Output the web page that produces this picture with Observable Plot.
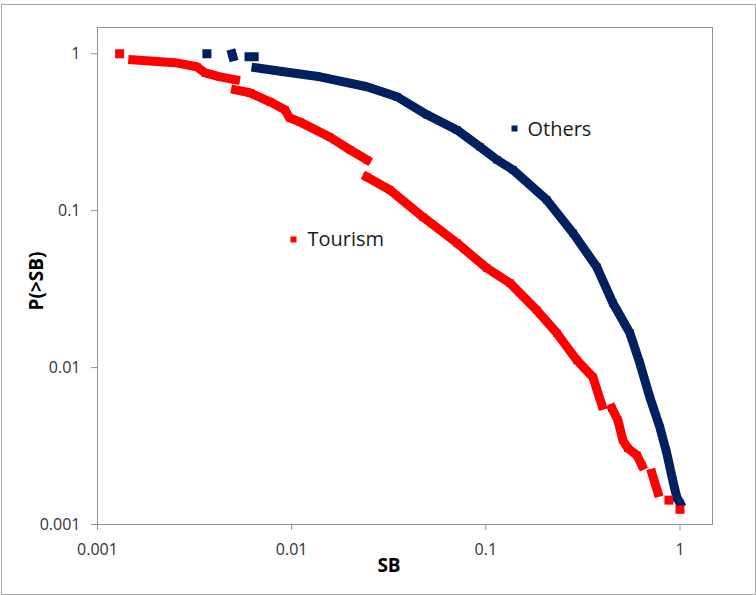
<!DOCTYPE html>
<html>
<head>
<meta charset="utf-8">
<script src="https://cdn.jsdelivr.net/npm/d3@7"></script>
<script src="https://cdn.jsdelivr.net/npm/@observablehq/plot@0.6"></script>
<style>
  html, body { margin: 0; padding: 0; background: #fff; overflow: hidden; }
  #wrap { position: relative; width: 756px; height: 595px; }
  #border { position: absolute; left: 1px; top: 4px; width: 755px; height: 591px; box-sizing: border-box; border: 1px solid #a6a6a6; pointer-events: none; z-index: 2; }
  #chart { position: absolute; left: 0; top: 0; }
  #chart g[aria-label="x-axis tick label"], #chart g[aria-label="y-axis tick label"] { fill: #333; }
</style>
</head>
<body>
<div id="wrap"><div id="chart"></div><div id="border"></div></div>
<script>
// Tourism series (SB, P(>SB), run index for contiguous marker bands)
const tourismSB  = [0.0013, 0.00152, 0.00186, 0.00251, 0.00325, 0.00358, 0.00428, 0.00514,
  0.00514, 0.0061, 0.00773, 0.00923, 0.00976, 0.011, 0.0157, 0.020, 0.0244,
  0.0244, 0.0321, 0.0474, 0.071, 0.101, 0.133, 0.183, 0.232, 0.294, 0.356, 0.396,
  0.446, 0.479, 0.508, 0.539, 0.600, 0.637,
  0.717, 0.743, 0.769,
  0.877,
  1.0];
const tourismP   = [1.0, 0.916, 0.90, 0.877, 0.826, 0.756, 0.713, 0.683,
  0.589, 0.564, 0.494, 0.44, 0.39, 0.368, 0.295, 0.244, 0.211,
  0.164, 0.1355, 0.0912, 0.0622, 0.0431, 0.0346, 0.0232, 0.0166, 0.01115, 0.00869, 0.00575,
  0.0055, 0.00461, 0.00344, 0.00306, 0.00276, 0.00238,
  0.00212, 0.00183, 0.0016,
  0.00143,
  0.00125];
const tourismRun = [0, 1, 1, 1, 1, 1, 1, 1,
  2, 2, 2, 2, 2, 2, 2, 2, 2,
  3, 3, 3, 3, 3, 3, 3, 3, 3, 3, 3,
  4, 4, 4, 4, 4, 4,
  5, 5, 5,
  6,
  7];

// Others series
const othersSB  = [0.00366, 0.00493, 0.00498, 0.00603, 0.00641,
  0.00655, 0.00912, 0.0140, 0.0244, 0.0349, 0.0498, 0.071, 0.0933, 0.114, 0.138, 0.206,
  0.281, 0.373, 0.451, 0.552, 0.621, 0.699, 0.787, 0.855, 0.918, 0.962, 1.0];
const othersP   = [1.0, 1.0, 0.957, 0.957, 0.957,
  0.814, 0.768, 0.713, 0.616, 0.532, 0.408, 0.327, 0.255, 0.211, 0.182, 0.117,
  0.0721, 0.0437, 0.0258, 0.0166, 0.01067, 0.00647, 0.00417, 0.00284, 0.00191, 0.00149, 0.00137];
const othersRun = [0, 1, 1, 2, 2,
  3, 3, 3, 3, 3, 3, 3, 3, 3, 3, 3,
  3, 3, 3, 3, 3, 3, 3, 3, 3, 3, 3];

const seriesNames = ["Others", "Tourism"];
const seriesColors = ["#002060", "#ff0000"];
const xTicks = [0.001, 0.01, 0.1, 1];
const yTicks = [0.001, 0.01, 0.1, 1];

const rows = [
  ...othersSB.map((x, i) => ({series: "Others", x, y: othersP[i], run: othersRun[i]})),
  ...tourismSB.map((x, i) => ({series: "Tourism", x, y: tourismP[i], run: tourismRun[i]}))
];

const fmt = d => String(d);
const labelFont = {fontSize: 20, fill: "#1a1a1a", textAnchor: "start", lineAnchor: "middle", frameAnchor: "top-left"};

const chart = Plot.plot({
  width: 756,
  height: 595,
  marginLeft: 97,
  marginRight: 44,
  marginTop: 27,
  marginBottom: 71,
  style: {fontFamily: "'Open Sans', sans-serif", background: "transparent"},
  x: {type: "log", domain: [0.001, 1.47]},
  y: {type: "log", domain: [0.001, 1.47]},
  color: {domain: seriesNames, range: seriesColors},
  marks: [
    Plot.frame({stroke: "#939393"}),
    Plot.axisX({ticks: xTicks, tickFormat: fmt, tickSize: 6, tickPadding: 13, fontSize: 16, stroke: "#939393", label: null}),
    Plot.axisY({ticks: yTicks, tickFormat: fmt, tickSize: 6, tickPadding: 11, fontSize: 16, stroke: "#939393", label: null}),
    Plot.line(rows, {x: "x", y: "y", z: d => d.series + "-" + d.run, stroke: "series",
      strokeWidth: 9, strokeLinecap: "square", strokeLinejoin: "round"}),
    Plot.dot(rows, {x: "x", y: "y", symbol: "square", r: 4.2, fill: "series", stroke: "none"}),
    // in-plot legend
    Plot.dot(["Others"], {frameAnchor: "top-left", dx: 417, dy: 101, symbol: "square", r: 3.4, fill: d => d}),
    Plot.dot(["Tourism"], {frameAnchor: "top-left", dx: 196, dy: 212, symbol: "square", r: 3.4, fill: d => d}),
    Plot.text(["Others"], {...labelFont, dx: 430, dy: 102}),
    Plot.text(["Tourism"], {...labelFont, dx: 210, dy: 212}),
    Plot.text(["SB"], {frameAnchor: "bottom", textAnchor: "middle", lineAnchor: "middle", dx: -16, dy: 41, fontSize: 19, fontWeight: "bold", fill: "#000"}),
    Plot.text(["P(>SB)"], {frameAnchor: "left", textAnchor: "middle", lineAnchor: "middle", dx: -61, dy: 5, rotate: -90, fontSize: 19, fontWeight: "bold", fill: "#000"})
  ]
});
document.getElementById("chart").appendChild(chart);
</script>
</body>
</html>
